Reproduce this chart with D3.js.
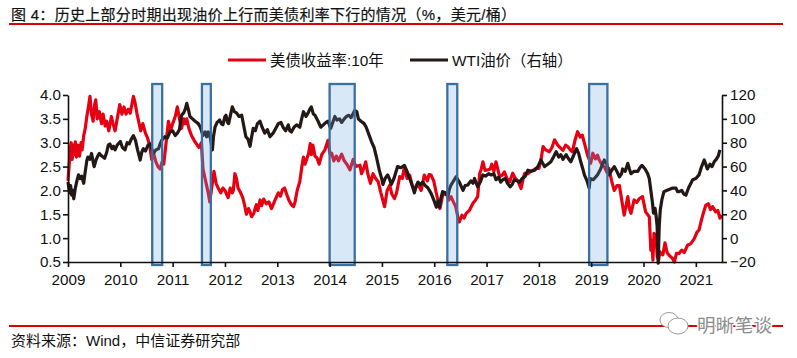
<!DOCTYPE html>
<html>
<head>
<meta charset="utf-8">
<script src="https://cdnjs.cloudflare.com/ajax/libs/d3/7.8.5/d3.min.js"></script>
<style>
  html, body { margin: 0; padding: 0; background: #fff; }
  svg { display: block; }
  text { font-family: "Liberation Sans", "Noto Sans CJK SC", sans-serif; fill: #111; }
  .axis text { font-size: 15.2px; }
</style>
</head>
<body>
<div id="chart"></div>
<script>
const titleText = "图 4：历史上部分时期出现油价上行而美债利率下行的情况（%，美元/桶）";
const sourceText = "资料来源：Wind，中信证券研究部";
const watermarkText = "明晰笔谈";
const yieldName = "美债收益率:10年";
const oilName = "WTI油价（右轴）";

const yearTicks = [2009, 2010, 2011, 2012, 2013, 2014, 2015, 2016, 2017, 2018, 2019, 2020, 2021];
const yieldTicks = [0.5, 1.0, 1.5, 2.0, 2.5, 3.0, 3.5, 4.0];
const oilTicks = [-20, 0, 20, 40, 60, 80, 100, 120];

const bandStarts = [2010.61, 2011.56, 2014.0, 2016.25, 2018.96];
const bandEnds = [2010.8, 2011.73, 2014.48, 2016.44, 2019.31];

// [decimal year, 10y yield %]
const yieldPoints = [
  [2009.0,2.2],[2009.02,2.5],[2009.04,2.85],[2009.06,3.0],[2009.08,2.65],[2009.1,2.95],[2009.12,2.75],[2009.14,3.02],[2009.16,2.7],[2009.19,2.95],[2009.22,2.72],[2009.25,3.0],[2009.27,2.85],[2009.3,3.15],[2009.33,3.3],[2009.36,3.55],[2009.39,3.75],[2009.42,3.97],[2009.45,3.6],[2009.48,3.45],[2009.51,3.8],[2009.53,3.9],[2009.56,3.5],[2009.6,3.65],[2009.64,3.4],[2009.67,3.6],[2009.71,3.35],[2009.74,3.45],[2009.78,3.25],[2009.83,3.55],[2009.86,3.4],[2009.9,3.25],[2009.94,3.5],[2009.99,3.8],
  [2010.03,3.6],[2010.07,3.75],[2010.11,3.6],[2010.15,3.7],[2010.19,3.62],[2010.25,3.97],[2010.28,3.85],[2010.32,3.6],[2010.35,3.45],[2010.39,3.25],[2010.43,3.4],[2010.48,3.2],[2010.52,3.1],[2010.56,2.95],[2010.6,2.65],[2010.63,2.8],[2010.68,2.6],[2010.72,2.5],[2010.76,2.45],[2010.8,2.6],[2010.83,2.55],[2010.87,2.95],[2010.92,3.45],[2010.96,3.25],
  [2011.0,3.4],[2011.05,3.55],[2011.09,3.75],[2011.13,3.5],[2011.17,3.3],[2011.21,3.5],[2011.24,3.4],[2011.27,3.5],[2011.31,3.3],[2011.36,3.15],[2011.41,3.05],[2011.47,2.95],[2011.5,2.9],[2011.55,3.0],[2011.58,2.45],[2011.62,2.25],[2011.65,2.1],[2011.68,1.95],[2011.71,1.76],[2011.74,2.0],[2011.79,2.4],[2011.83,2.15],[2011.87,2.05],[2011.92,1.95],[2011.96,2.05],
  [2012.0,2.0],[2012.03,1.92],[2012.06,1.85],[2012.1,2.05],[2012.14,1.95],[2012.16,2.0],[2012.19,2.35],[2012.22,2.25],[2012.25,2.05],[2012.3,1.95],[2012.34,1.85],[2012.37,1.72],[2012.41,1.5],[2012.45,1.62],[2012.48,1.55],[2012.51,1.45],[2012.55,1.52],[2012.6,1.7],[2012.63,1.58],[2012.67,1.8],[2012.7,1.68],[2012.74,1.82],[2012.79,1.72],[2012.84,1.76],[2012.89,1.62],[2012.95,1.78],
  [2013.02,1.95],[2013.06,1.88],[2013.1,2.02],[2013.14,2.05],[2013.18,1.92],[2013.22,1.8],[2013.27,1.7],[2013.31,1.66],[2013.34,1.76],[2013.38,2.0],[2013.43,2.18],[2013.47,2.5],[2013.5,2.7],[2013.53,2.55],[2013.56,2.65],[2013.6,2.78],[2013.63,2.98],[2013.65,2.75],[2013.68,2.95],[2013.72,2.72],[2013.76,2.68],[2013.8,2.55],[2013.85,2.75],[2013.91,2.85],[2013.97,3.05],
  [2014.01,2.75],[2014.04,2.78],[2014.08,2.62],[2014.13,2.72],[2014.17,2.62],[2014.23,2.76],[2014.28,2.62],[2014.33,2.55],[2014.39,2.43],[2014.45,2.65],[2014.5,2.5],[2014.58,2.53],[2014.61,2.35],[2014.64,2.42],[2014.69,2.6],[2014.73,2.35],[2014.78,2.15],[2014.83,2.35],[2014.88,2.25],[2014.93,2.18],[2014.98,1.95],
  [2015.05,1.66],[2015.1,2.0],[2015.15,2.11],[2015.19,1.92],[2015.24,1.83],[2015.28,1.95],[2015.34,2.29],[2015.39,2.25],[2015.43,2.5],[2015.48,2.25],[2015.53,2.32],[2015.58,2.1],[2015.62,2.0],[2015.68,2.15],[2015.75,2.0],[2015.78,2.15],[2015.81,2.32],[2015.87,2.2],[2015.9,2.33],[2015.94,2.32],[2015.99,2.2],
  [2016.04,1.94],[2016.08,1.75],[2016.11,1.62],[2016.16,1.9],[2016.23,1.94],[2016.28,1.8],[2016.32,1.87],[2016.37,1.75],[2016.41,1.66],[2016.45,1.45],[2016.48,1.34],[2016.53,1.48],[2016.57,1.42],[2016.61,1.52],[2016.67,1.58],[2016.74,1.73],[2016.79,1.8],[2016.83,1.87],[2016.87,2.36],[2016.9,2.45],[2016.93,2.6],[2016.97,2.42],
  [2017.02,2.43],[2017.07,2.45],[2017.1,2.55],[2017.14,2.4],[2017.18,2.6],[2017.22,2.42],[2017.25,2.29],[2017.3,2.32],[2017.34,2.39],[2017.39,2.25],[2017.44,2.18],[2017.5,2.36],[2017.55,2.25],[2017.6,2.2],[2017.66,2.04],[2017.7,2.25],[2017.73,2.36],[2017.79,2.35],[2017.85,2.4],[2017.95,2.46],
  [2018.0,2.46],[2018.04,2.64],[2018.08,2.92],[2018.13,2.85],[2018.2,2.81],[2018.25,2.9],[2018.3,3.06],[2018.36,2.95],[2018.42,2.88],[2018.46,2.84],[2018.51,2.95],[2018.55,2.92],[2018.6,2.85],[2018.64,2.81],[2018.69,3.05],[2018.74,3.23],[2018.79,3.12],[2018.83,3.16],[2018.88,2.95],[2018.93,2.74],[2018.99,2.57],
  [2019.03,2.78],[2019.08,2.66],[2019.12,2.74],[2019.15,2.65],[2019.2,2.55],[2019.25,2.5],[2019.3,2.38],[2019.34,2.46],[2019.39,2.2],[2019.44,2.0],[2019.49,2.1],[2019.54,2.1],[2019.59,1.75],[2019.63,1.48],[2019.67,1.7],[2019.7,1.87],[2019.73,1.62],[2019.76,1.52],[2019.82,1.8],[2019.87,1.75],[2019.92,1.83],[2019.98,1.87],
  [2020.04,1.55],[2020.11,1.45],[2020.14,0.75],[2020.16,0.95],[2020.18,0.54],[2020.2,1.1],[2020.24,1.06],[2020.26,0.62],[2020.29,0.54],[2020.31,0.72],[2020.33,0.68],[2020.37,0.65],[2020.41,0.9],[2020.45,0.7],[2020.49,0.64],[2020.55,0.58],[2020.59,0.5],[2020.63,0.68],[2020.68,0.68],[2020.73,0.75],[2020.78,0.7],[2020.84,0.85],[2020.9,0.88],[2020.97,0.99],
  [2021.02,1.12],[2021.06,1.17],[2021.1,1.35],[2021.15,1.55],[2021.19,1.69],[2021.24,1.72],[2021.28,1.6],[2021.32,1.66],[2021.38,1.55],[2021.42,1.58],[2021.46,1.42],[2021.5,1.48]
];

// [decimal year, WTI USD/bbl]
const oilPoints = [
  [2009.0,47],[2009.03,38],[2009.05,44],[2009.07,36],[2009.09,40],[2009.11,33],[2009.14,42],[2009.17,48],[2009.2,53],[2009.23,50],[2009.26,52],[2009.3,46],[2009.33,56],[2009.36,65],[2009.38,68],[2009.42,66],[2009.45,71],[2009.48,64],[2009.5,60],[2009.54,66],[2009.57,69],[2009.6,71],[2009.64,69],[2009.7,67],[2009.74,72],[2009.77,78],[2009.8,79],[2009.84,75],[2009.87,77],[2009.9,74],[2009.94,78],[2010.0,81],
  [2010.04,76],[2010.09,74],[2010.13,80],[2010.17,79],[2010.21,83],[2010.25,86],[2010.29,82],[2010.33,74],[2010.38,65.5],[2010.41,72],[2010.44,75],[2010.48,73],[2010.53,78],[2010.57,79],[2010.6,75],[2010.63,71],[2010.68,74],[2010.73,75],[2010.76,79],[2010.79,82],[2010.85,85],[2010.9,84],[2010.95,89],[2011.0,90],
  [2011.05,86],[2011.09,88],[2011.13,91],[2011.17,103],[2011.21,105],[2011.24,108],[2011.27,113],[2011.3,108],[2011.33,102],[2011.38,100],[2011.43,98],[2011.49,96],[2011.53,93],[2011.58,86],[2011.62,89],[2011.65,85],[2011.68,89],[2011.72,84],[2011.76,74],[2011.78,85],[2011.81,93],[2011.85,97],
  [2011.9,99],[2011.93,96],[2011.96,95],[2012.0,102],[2012.02,103],[2012.05,97],[2012.07,96],[2012.11,104],[2012.14,110],[2012.18,106],[2012.22,105],[2012.27,102],[2012.32,103],[2012.36,94],[2012.4,85],[2012.44,83],[2012.48,77],[2012.51,85],[2012.54,92],[2012.58,90],[2012.62,96],[2012.67,98],[2012.71,93],[2012.76,88],[2012.81,91],[2012.86,85],[2012.92,88],[2012.97,92],
  [2013.02,96],[2013.07,97],[2013.11,93],[2013.16,90],[2013.21,95],[2013.24,90],[2013.27,89],[2013.32,93],[2013.37,95],[2013.43,93],[2013.46,99],[2013.5,106],[2013.55,102],[2013.59,105],[2013.62,108],[2013.65,110],[2013.69,104],[2013.72,103],[2013.78,98],[2013.83,93],[2013.88,95],[2013.93,97],[2013.97,98],
  [2014.02,92],[2014.06,97],[2014.1,102],[2014.14,99],[2014.19,100],[2014.23,97],[2014.28,100],[2014.32,102],[2014.37,103],[2014.41,101],[2014.48,107],[2014.52,106],[2014.55,100],[2014.6,98],[2014.66,96],[2014.7,93],[2014.75,87],[2014.8,81],[2014.85,76],[2014.9,67],[2014.95,57],
  [2015.0,49],[2015.02,45],[2015.06,50],[2015.11,53],[2015.15,49],[2015.18,45],[2015.23,50],[2015.3,60],[2015.36,59],[2015.43,61],[2015.48,56],[2015.53,50],[2015.58,44],[2015.62,38],[2015.66,44],[2015.69,47],[2015.74,45],[2015.78,47],[2015.83,44],[2015.88,42],[2015.94,37.5],[2016.0,31],
  [2016.04,26],[2016.07,31],[2016.1,26],[2016.13,34],[2016.16,39],[2016.21,38],[2016.26,35],[2016.29,41],[2016.32,44.5],[2016.37,48],[2016.42,51.5],[2016.45,49],[2016.48,47],[2016.52,43],[2016.55,40],[2016.59,44],[2016.64,44.5],[2016.7,48],[2016.74,46],[2016.77,50],[2016.83,43],[2016.88,47],[2016.93,53],[2016.98,52],
  [2017.04,54],[2017.09,53],[2017.14,54],[2017.18,49],[2017.23,51],[2017.27,47],[2017.31,49],[2017.36,50],[2017.4,46],[2017.45,43],[2017.49,45],[2017.53,49],[2017.58,48],[2017.63,47],[2017.68,50],[2017.74,52],[2017.79,57],[2017.85,56],[2017.92,57],[2017.98,60],
  [2018.04,65.5],[2018.07,63],[2018.11,60],[2018.17,62],[2018.23,64],[2018.28,68],[2018.33,72.5],[2018.38,68],[2018.42,70],[2018.46,66],[2018.52,70],[2018.56,67],[2018.61,64],[2018.66,69],[2018.72,75],[2018.76,71],[2018.8,64],[2018.84,58],[2018.87,53],[2018.92,48],[2018.96,42],[2018.98,50],
  [2019.04,49],[2019.12,53],[2019.18,58],[2019.25,65.5],[2019.3,62],[2019.34,53],[2019.38,56],[2019.44,60],[2019.49,56],[2019.54,51.5],[2019.58,54],[2019.6,58],[2019.65,56],[2019.7,62.7],[2019.73,58],[2019.76,54],[2019.82,56],[2019.89,56],[2019.93,59],[2019.97,61],
  [2020.03,58],[2020.08,54],[2020.11,50],[2020.14,40],[2020.17,30],[2020.19,21],[2020.22,25],[2020.24,19],[2020.26,10],[2020.28,-21],[2020.3,10],[2020.32,23.6],[2020.35,32],[2020.39,39],[2020.44,40],[2020.5,41],[2020.56,42],[2020.62,42],[2020.65,39],[2020.68,39],[2020.73,40],[2020.77,37],[2020.81,36],[2020.86,42],[2020.94,49],
  [2021.0,50],[2021.06,53],[2021.11,60],[2021.16,65.5],[2021.19,62],[2021.22,58],[2021.27,62],[2021.31,60],[2021.35,64],[2021.39,66],[2021.43,69],[2021.46,74]
];

const width = 797;
const height = 358;
const margin = { top: 95, right: 75, bottom: 96, left: 68 };
const innerWidth = width - margin.left - margin.right;
const innerHeight = height - margin.top - margin.bottom;

const svg = d3.select("#chart").append("svg")
  .attr("width", width)
  .attr("height", height);

// x runs to mid 2021, 52.4px per year
const xScale = d3.scaleLinear().domain([2009, 2021.5]).range([0, innerWidth]);
const yLeft = d3.scaleLinear().domain([0.5, 4.0]).range([innerHeight, 0]);
const yRight = d3.scaleLinear().domain([-20, 120]).range([innerHeight, 0]);

// header and footer rules
svg.append("text").attr("x", 11).attr("y", 20)
  .attr("font-size", 15).attr("textLength", 505)
  .attr("stroke", "#111").attr("stroke-width", 0.2)
  .text(titleText);
svg.append("line").attr("x1", 9).attr("x2", 783).attr("y1", 24).attr("y2", 24)
  .attr("stroke", "#dc0000").attr("stroke-width", 2);
svg.append("line").attr("x1", 9).attr("x2", 783).attr("y1", 326).attr("y2", 326)
  .attr("stroke", "#dc0000").attr("stroke-width", 2);
svg.append("text").attr("x", 11).attr("y", 346)
  .attr("font-size", 15).text(sourceText);

// legend
const legend = svg.append("g");
const legendItems = [
  { name: yieldName, color: "#e60012", x: 228 },
  { name: oilName, color: "#231815", x: 410 }
];
legendItems.forEach(d => {
  legend.append("line").attr("x1", d.x).attr("x2", d.x + 38).attr("y1", 60).attr("y2", 60)
    .attr("stroke", d.color).attr("stroke-width", 3);
  legend.append("text").attr("x", d.x + 42).attr("y", 65.5)
    .attr("font-size", 15.4).text(d.name);
});

const chart = svg.append("g").attr("transform", `translate(${margin.left}, ${margin.top})`);

const yieldLine = d3.line().x(d => xScale(d[0])).y(d => yLeft(d[1]));
const oilLine = d3.line().x(d => xScale(d[0])).y(d => yRight(d[1]));

chart.append("path").datum(yieldPoints)
  .attr("fill", "none").attr("stroke", "#e60012").attr("stroke-width", 3.2)
  .attr("stroke-linejoin", "round").attr("d", yieldLine);
chart.append("path").datum(oilPoints)
  .attr("fill", "none").attr("stroke", "#231815").attr("stroke-width", 3.2)
  .attr("stroke-linejoin", "round").attr("d", oilLine);

// highlighted periods sit on top of the lines
chart.selectAll("rect.band")
  .data(bandStarts)
  .join("rect")
  .attr("class", "band")
  .attr("x", d => xScale(d))
  .attr("width", (d, i) => xScale(bandEnds[i]) - xScale(d))
  .attr("y", -11)
  .attr("height", 181)
  .attr("fill", "rgba(103,163,223,0.25)")
  .attr("stroke", "#3a6fa0")
  .attr("stroke-width", 2.3);

const xAxis = chart.append("g")
  .attr("class", "axis")
  .attr("transform", `translate(0, ${innerHeight})`)
  .call(d3.axisBottom(xScale).tickValues(yearTicks).tickFormat(d3.format("d")).tickSize(5).tickSizeOuter(0));
xAxis.selectAll("text").attr("dy", "1em");

const leftAxis = chart.append("g")
  .attr("class", "axis")
  .call(d3.axisLeft(yLeft).tickValues(yieldTicks).tickFormat(d3.format(".1f")).tickSize(5).tickSizeOuter(0));
leftAxis.selectAll("text").attr("x", -7);

const rightAxis = chart.append("g")
  .attr("class", "axis")
  .attr("transform", `translate(${innerWidth}, 0)`)
  .call(d3.axisRight(yRight).tickValues(oilTicks).tickSize(5).tickSizeOuter(0));
rightAxis.selectAll("text").attr("x", 8);

chart.selectAll(".axis path, .axis line")
  .attr("stroke", "#111")
  .attr("stroke-width", 1.6);

// watermark over the footer rule
const mark = svg.append("g").attr("fill", "#fff").attr("stroke", "#9a9a9a").attr("stroke-width", 1);
mark.append("ellipse").attr("cx", 669).attr("cy", 320).attr("rx", 9).attr("ry", 7.5);
mark.append("ellipse").attr("cx", 678).attr("cy", 326).attr("rx", 10).attr("ry", 8);
svg.append("text").attr("x", 697).attr("y", 332)
  .attr("font-size", 18.5).attr("textLength", 75)
  .attr("stroke", "#fff").attr("stroke-width", 2.5).attr("paint-order", "stroke")
  .style("fill", "#8c8c8c")
  .text(watermarkText);
</script>
</body>
</html>
